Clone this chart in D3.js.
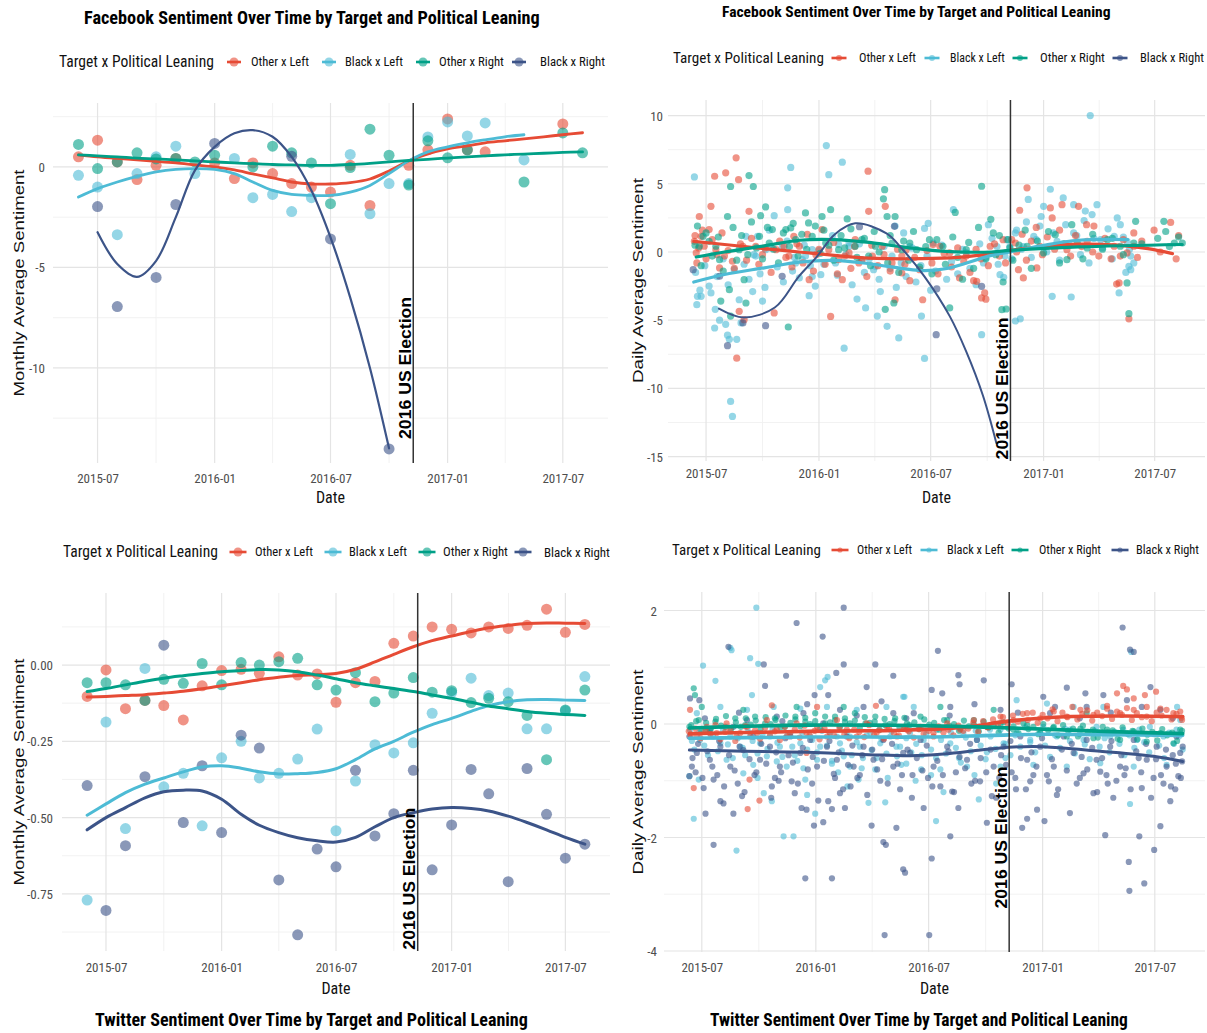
<!DOCTYPE html>
<html>
<head>
<meta charset="utf-8">
<script src="https://cdn.jsdelivr.net/npm/d3@7"></script>
<style>
  body { margin: 0; background: #fff; }
  svg { display: block; background: #fff; }
</style>
</head>
<body>
<svg id="chart" width="1207" height="1033"></svg>
<script>
// ---- series / legend ----
const seriesNames = ["Other x Left", "Black x Left", "Other x Right", "Black x Right"];
const seriesColors = ["#E64B35", "#4DBBD5", "#00A087", "#3C5488"];

// ---- monthly data (Facebook top-left, Twitter bottom-left) ----
const months = ["2015-06","2015-07","2015-08","2015-09","2015-10","2015-11","2015-12",
  "2016-01","2016-02","2016-03","2016-04","2016-05","2016-06","2016-07","2016-08","2016-09","2016-10","2016-11","2016-12",
  "2017-01","2017-02","2017-03","2017-04","2017-05","2017-06","2017-07","2017-08"];

const fbMonthlyOtherLeft  = [0.5,1.33,0.25,-0.63,0.08,0.42,null,0.2,-0.58,0.2,-0.33,-0.83,-1.0,-1.25,0.08,-1.92,null,0.08,0.85,2.39,0.85,0.75,null,null,null,2.14,null];
const fbMonthlyBlackLeft  = [-0.42,-1.0,-3.37,-0.33,0.5,1.03,-0.33,null,0.42,-1.53,-1.37,-2.22,-1.53,null,0.62,-2.33,-0.83,-0.83,1.49,2.24,1.54,2.19,null,0.35,null,null,null];
const fbMonthlyOtherRight = [1.12,-0.08,0.25,0.7,0.4,0.42,0.25,0.58,null,0.0,1.03,0.7,0.2,-1.83,-0.03,1.88,0.58,-0.9,1.3,0.45,0.85,null,null,-0.75,null,1.69,0.7];
const fbMonthlyBlackRight = [null,-1.97,-6.95,null,-5.5,-1.87,null,1.17,null,null,null,0.53,null,-3.58,null,null,-14.03,null,null,null,null,null,null,null,null,null,null];

const fbMonthlyOtherLeftFit  = [0.6,0.5,0.42,0.35,0.28,0.2,0.1,0.0,-0.15,-0.35,-0.55,-0.75,-0.85,-0.85,-0.78,-0.6,-0.2,0.3,0.65,0.9,1.05,1.2,1.3,1.4,1.5,1.6,1.7];
const fbMonthlyBlackLeftFit  = [-1.5,-1.08,-0.75,-0.47,-0.25,-0.12,-0.08,-0.12,-0.33,-0.75,-1.17,-1.37,-1.42,-1.42,-1.25,-0.92,-0.33,0.3,0.75,1.0,1.2,1.35,1.5,1.6,null,null,null];
const fbMonthlyOtherRightFit = [0.6,0.55,0.5,0.44,0.4,0.35,0.3,0.25,0.2,0.16,0.12,0.1,0.08,0.08,0.12,0.18,0.25,0.32,0.38,0.44,0.5,0.55,0.6,0.64,0.68,0.72,0.75];
const fbMonthlyBlackRightFit = [null,-3.25,-4.83,-5.47,-4.67,-2.5,-0.17,1.0,1.67,1.83,1.5,0.5,-1.17,-3.5,-6.5,-10,-14,null,null,null,null,null,null,null,null,null,null];

const twMonthlyOtherLeft  = [-0.103,-0.016,-0.143,-0.116,-0.133,-0.18,-0.068,-0.018,-0.014,-0.027,0.027,-0.033,-0.029,-0.122,-0.058,-0.054,0.071,0.095,0.125,0.117,0.105,0.125,0.12,0.13,0.183,0.107,0.133];
const twMonthlyBlackLeft  = [-0.77,-0.187,-0.536,-0.011,-0.399,-0.355,-0.527,-0.304,-0.25,-0.37,-0.355,-0.308,-0.21,-0.543,-0.38,-0.261,-0.288,-0.255,-0.158,-0.09,-0.043,-0.1,-0.092,-0.209,-0.209,-0.15,-0.038];
const twMonthlyOtherRight = [-0.058,-0.058,-0.065,-0.116,-0.047,-0.06,0.005,-0.065,0.008,0.0,0.011,0.022,-0.065,-0.082,-0.025,-0.12,-0.092,-0.041,-0.089,-0.084,-0.123,-0.109,-0.12,-0.165,-0.31,-0.147,-0.082];
const twMonthlyBlackRight = [-0.395,-0.804,-0.592,-0.366,0.065,-0.516,-0.33,-0.549,-0.23,-0.272,-0.704,-0.884,-0.603,-0.661,-0.345,-0.56,-0.487,-0.345,-0.671,-0.524,-0.342,-0.422,-0.71,-0.339,-0.489,-0.633,-0.587];

const twMonthlyOtherLeftFit  = [-0.105,-0.103,-0.1,-0.097,-0.092,-0.086,-0.078,-0.068,-0.058,-0.048,-0.04,-0.034,-0.032,-0.028,-0.014,0.01,0.035,0.06,0.08,0.095,0.11,0.122,0.13,0.136,0.138,0.137,0.136];
const twMonthlyBlackLeftFit  = [-0.492,-0.455,-0.418,-0.39,-0.37,-0.35,-0.334,-0.33,-0.338,-0.35,-0.357,-0.356,-0.352,-0.34,-0.31,-0.275,-0.25,-0.22,-0.195,-0.175,-0.152,-0.133,-0.12,-0.114,-0.113,-0.115,-0.116];
const twMonthlyOtherRightFit = [-0.087,-0.077,-0.065,-0.053,-0.043,-0.035,-0.028,-0.022,-0.018,-0.015,-0.016,-0.022,-0.033,-0.045,-0.058,-0.068,-0.077,-0.087,-0.098,-0.109,-0.122,-0.134,-0.143,-0.152,-0.158,-0.162,-0.165];
const twMonthlyBlackRightFit = [-0.54,-0.5,-0.467,-0.435,-0.415,-0.41,-0.413,-0.44,-0.489,-0.525,-0.549,-0.566,-0.576,-0.58,-0.565,-0.53,-0.5,-0.484,-0.472,-0.467,-0.47,-0.478,-0.495,-0.516,-0.54,-0.565,-0.587];

// ---- daily data: [day since 2015-06-01, sentiment] ----
const dayZero = "2015-06-01";

const fbDailyOtherLeft = [[11,0.78],[15,-0.8],[19,2.6],[22,1.15],[35,1.64],[38,3.35],[44,5.55],[52,-1.17],[62,5.8],[79,6.9],[83,5.3],[84,-4.35],[73,-0.68],[80,-7.78],[92,-4.96],[100,2.98],[111,0.42],[141,-4.47],[157,0.42],[173,1.15],[198,-2.03],[219,1.64],[233,-4.72],[252,-2.03],[273,0.9],[295,2.98],[294,5.92],[322,3.35],[338,-3.5],[349,-1.54],
  [14,-0.07],[27,0.42],[46,0.17],[60,-0.3],[90,0.42],[122,-0.2],[144,0.17],[165,-0.3],[182,0.42],[209,-0.2],[230,0.17],[246,-0.56],[263,-0.07],[279,-0.8],[301,-0.3],[317,0.42],[333,-0.8],[349,-0.3],
  [553,4.7],[541,3.06],[591,3.23],[594,2.5],[610,3.47],[637,3.35],[539,-1.3],[547,-1.9],[569,-1.17],[479,-3.37],[484,-3.0],[471,-2.15],[443,-1.9],[383,-3.5],[703,-2.27],[719,-4.9],[787,2.17],[727,1.4],[662,1.9],[670,-0.3],[466,-2.1],[486,-3.46],[699,-2.35],
  [356,0.17],[400,0.54],[411,0.42],[427,-0.07],[454,-0.3],[493,0.42],[514,0.9],[534,0.66],[574,0.42],[618,0.17],[651,0.78],[695,0.42],[705,-0.3],[716,-0.07],[727,0.42]];
const fbDailyOtherLeftBand = [[12,1.2],[18,0.3],[24,1.6],[30,-0.5],[40,0.9],[48,-0.2],[56,1.4],[66,0.1],[76,-1.2],[86,0.6],[96,-0.6],[104,1.0],[116,-0.9],[126,0.3],[136,-1.5],[150,0.8],[160,-0.4],[170,-1.1],[178,0.6],[188,-0.8],[195,1.3],[205,-1.4],[214,0.2],[224,-0.9],[238,0.7],[244,-1.6],[256,-0.3],[266,-1.2],[272,0.4],[284,-0.6],[292,-1.8],[300,0.5],[310,-1.0],[320,-0.2],[330,-1.4],[342,0.2],[354,-0.9],[362,-2.1],[370,-0.4],[378,-1.3],[390,0.1],[398,-0.8],[408,-1.6],[418,-0.1],[430,-1.1],[440,0.3],[450,-0.7],[460,-1.5],[470,0.2],[478,-0.5],[490,-1.0],[500,0.6],[508,-0.3],[518,-0.8],[528,0.9],[536,0.0],[545,1.3],[552,-0.6],[560,0.8],[568,1.8],[578,-0.2],[586,1.1],[598,0.2],[606,1.6],[615,0.6],[624,-0.3],[632,1.2],[642,0.4],[650,2.0],[660,0.0],[680,1.0],[690,-0.5],[710,0.9],[733,-0.4],[740,0.8],[760,1.6],[770,0.0],[796,-0.5],[800,1.2]];

const fbDailyBlackLeft = [[11,5.5],[16,-3.25],[15,-3.86],[22,-3.25],[35,-2.5],[45,-4.2],[44,-5.57],[52,-5.0],[62,-5.3],[65,-6.1],[68,-6.4],[70,-10.95],[73,-12.05],[80,-6.4],[87,-5.2],[95,1.15],[106,-2.9],[114,1.15],[122,-3.6],[133,1.6],[141,2.66],[163,4.7],[168,6.2],[163,3.1],[171,-1.4],[187,-0.56],[198,-3.2],[203,-1.8],[217,-1.66],[226,7.8],[230,5.67],[241,-0.8],[252,6.58],[255,-7.05],[263,0.66],[276,-3.45],[290,-4.1],[303,-1.3],[309,-4.7],[314,-2.9],[325,-5.45],[344,-6.3],[338,1.9],[352,1.4],
  [111,-0.3],[127,0.17],[154,0.4],[176,-0.8],[192,-0.3],[203,0.17],[246,0.54],[263,0.4],[284,-0.56],[306,-1.05],[333,-0.3],
  [656,10.0],[591,4.6],[555,3.85],[612,3.96],[580,3.35],[629,3.47],[648,3.0],[667,3.47],[659,2.74],[433,3.1],[490,2.0],[392,2.1],[381,-4.7],[386,-7.8],[479,-6.06],[542,-4.9],[594,-3.25],[625,-3.3],[703,-3.0],[719,-1.05],[722,-1.3],[654,-0.8],[509,-1.66],[517,-0.3],[525,0.4],[700,2.5],[705,2.0],[716,0.78],[534,1.4],[574,1.9],[515,-1.85],[534,-5.06],[386,1.73],
  [547,0.4],[564,1.15],[602,0.78],[629,1.4],[673,0.9],[695,1.15],[722,-0.3],[727,-0.8],[362,0.4],[400,0.66],[454,-0.07],[482,-0.8],[504,0.4]];
const fbDailyBlackLeftBand = [[13,-1.5],[20,-2.8],[28,-1.0],[38,-3.0],[48,-1.8],[58,-0.5],[66,-2.4],[76,-1.3],[84,-3.5],[92,-0.9],[100,-2.0],[108,-0.2],[118,-1.6],[126,-2.6],[136,0.3],[146,-1.1],[156,-2.2],[162,0.8],[174,-0.4],[182,-1.9],[190,0.5],[200,-1.0],[208,-2.5],[214,0.1],[222,-0.9],[236,1.2],[244,-1.7],[258,-0.2],[268,-2.4],[280,0.6],[288,-1.5],[296,-0.5],[312,-2.0],[320,0.4],[330,-1.2],[340,-2.6],[348,-0.8],[356,-1.8],[366,0.3],[372,-2.2],[380,-1.0],[390,-0.3],[396,-2.8],[404,-1.4],[414,0.5],[422,-2.0],[430,-0.7],[440,-1.6],[448,0.2],[460,-1.2],[470,-2.4],[476,0.6],[486,-0.4],[496,1.0],[506,-0.9],[520,0.9],[528,-0.5],[536,1.6],[544,0.2],[552,2.2],[560,-0.4],[568,0.9],[576,2.6],[585,0.0],[596,1.4],[606,-0.6],[616,2.0],[622,0.5],[634,1.2],[640,-0.2],[646,2.3],[662,1.0],[676,0.3],[685,1.7],[692,-0.5],[710,1.1],[714,-1.5],[720,0.2]];

const fbDailyOtherRight = [[16,1.9],[19,0.42],[35,0.78],[52,-0.56],[54,-3.6],[65,2.6],[70,4.8],[70,-4.7],[68,-2.76],[92,-2.03],[95,-3.74],[100,5.6],[107,4.8],[119,2.66],[127,3.3],[138,1.64],[160,1.64],[168,1.76],[164,-5.5],[192,2.86],[197,2.13],[219,2.6],[233,3.1],[260,2.42],[295,-0.3],[321,4.57],[319,3.9],[325,2.6],[338,2.6],[322,-4.2],[336,-3.74],
  [25,1.15],[46,0.42],[84,0.17],[117,1.15],[133,0.66],[176,0.9],[203,1.15],[225,0.66],[246,0.17],[273,0.42],[284,0.9],[306,0.42],[333,0.66],[349,0.17],
  [479,4.82],[436,2.9],[512,-4.23],[519,-4.18],[427,-4.1],[716,-2.27],[719,-4.52],[730,2.25],[776,2.25],[779,1.5],[806,0.66],[599,1.27],[618,-0.56],[362,0.66],[373,0.17],
  [394,0.9],[416,0.42],[454,0.17],[498,1.4],[525,0.3],[553,0.42],[580,-0.07],[635,0.66],[651,0.3],[684,0.9],[705,0.42],[727,0.66],[793,0.66]];
const fbDailyOtherRightBand = [[12,0.5],[22,-1.0],[30,1.4],[40,-0.3],[50,1.1],[58,-1.4],[74,1.8],[80,-0.6],[88,1.2],[98,-0.2],[104,2.2],[112,0.3],[122,-0.5],[130,1.8],[140,0.2],[148,-0.8],[156,1.4],[166,0.4],[172,2.1],[180,-0.3],[186,1.3],[194,0.2],[208,1.9],[216,-0.1],[222,1.6],[230,0.5],[238,-0.6],[250,1.2],[256,0.3],[266,1.7],[276,-0.4],[288,1.0],[298,-1.0],[304,1.5],[312,0.0],[326,-0.8],[330,1.2],[344,-1.5],[352,0.8],[360,-0.6],[368,1.5],[378,-1.1],[388,0.4],[398,-1.6],[406,0.9],[420,-0.9],[432,1.1],[440,-0.4],[448,-2.0],[458,0.7],[466,-1.2],[474,1.8],[486,-0.5],[494,2.4],[502,-0.2],[508,1.2],[514,-2.2],[522,0.9],[530,-0.6],[540,0.5],[550,1.6],[560,-1.2],[570,0.8],[588,1.5],[606,-0.8],[612,0.6],[626,2.0],[644,-0.5],[660,1.3],[676,0.2],[692,1.0],[710,-0.2],[740,0.6],[766,1.0],[785,0.4],[800,1.1]];

const fbDailyBlackRight = [[9,-1.3],[52,-1.78],[65,-6.87],[90,-5.2],[127,-5.4],[154,-1.78],[280,1.85],[337,1.88],[405,-6.06],[406,-2.7],[479,-2.52]];

const fbDailyOtherLeftFit  = [[10,0.78],[60,0.55],[125,0.25],[182,0.0],[239,-0.25],[296,-0.45],[381,-0.49],[440,-0.4],[495,-0.12],[526,0.12],[580,0.4],[637,0.57],[700,0.5],[750,0.25],[790,-0.12]];
const fbDailyBlackLeftFit  = [[10,-2.2],[60,-1.65],[125,-1.16],[182,-0.74],[239,-0.62],[296,-0.86],[381,-1.36],[420,-1.23],[495,-0.25],[526,0.0],[580,0.49],[637,0.86],[717,0.91]];
const fbDailyOtherRightFit = [[14,-0.37],[60,0.0],[125,0.45],[182,0.86],[239,0.91],[296,0.7],[350,0.37],[420,0.05],[495,0.0],[526,0.12],[637,0.37],[806,0.55]];
const fbDailyBlackRightFit = [[51,-4.15],[91,-4.8],[142,-4.07],[181,-1.8],[210,-0.37],[240,1.3],[273,2.1],[324,1.36],[350,0.2],[386,-1.8],[427,-4.7],[454,-7.3],[481,-10.5],[503,-14.0]];

const twDailyOtherLeft = [[11,0.25],[143,0.33],[17,-1.13],[107,-0.98],[104,-1.5],[123,-1.35],[311,0.32],
  [9,-0.13],[22,-0.22],[38,-0.05],[54,-0.16],[70,0.01],[86,-0.22],[103,-0.05],[119,-0.16],[135,0.07],[151,-0.1],[167,-0.22],[183,0.01],[199,-0.16],[216,-0.05],[232,-0.22],[248,0.07],[264,-0.1],[280,-0.22],[296,0.01],[312,-0.16],[329,-0.05],[345,-0.22],[361,-0.1],[216,0.3],[199,-0.51],
  [710,0.67],[716,0.61],[745,0.51],[763,0.57],[727,0.45],[700,0.54],
  [383,-0.05],[404,-0.16],[426,0.01],[447,-0.1],[469,0.07],[490,-0.05],[512,0.13],[533,0.07],[555,0.19],[576,0.1],[598,0.22],[619,0.13],[641,0.25],[662,0.16],[684,0.27],[705,0.19],[727,0.25],[748,0.13],[770,0.27],[791,0.19],[805,0.07],[802,0.22]];
const twDailyOtherLeftBand = [[12,-0.2],[20,-0.08],[28,-0.25],[36,-0.12],[44,-0.18],[52,-0.02],[60,-0.27],[68,-0.14],[76,-0.09],[84,-0.3],[92,-0.16],[100,-0.04],[108,-0.22],[116,-0.11],[124,-0.26],[132,-0.07],[140,-0.19],[148,-0.13],[156,-0.28],[164,-0.05],[172,-0.17],[180,-0.1],[188,-0.24],[196,-0.03],[204,-0.2],[212,-0.12],[220,-0.27],[228,-0.08],[236,-0.15],[244,-0.21],[252,-0.06],[260,-0.18],[268,-0.25],[276,-0.1],[284,-0.14],[292,-0.23],[300,-0.02],[308,-0.19],[316,-0.11],[324,-0.26],[332,-0.08],[340,-0.16],[348,-0.2],[356,-0.05],[364,-0.13],[372,-0.24],[380,-0.09],[388,-0.17],[396,-0.12],[404,-0.22],[412,-0.04],[420,-0.15],[428,-0.1],[436,-0.2],[444,-0.03],[452,-0.12],[460,-0.08],[468,0.02],[476,-0.14],[484,0.05],[492,-0.06],[500,0.08],[508,-0.02],[516,0.12],[524,0.0],[532,0.15],[540,0.04],[548,0.18],[556,0.07],[564,0.2],[572,0.02],[580,0.16],[588,0.1],[596,0.26],[604,0.05],[612,0.2],[620,0.12],[628,0.3],[636,0.08],[644,0.18],[652,0.24],[660,0.06],[668,0.2],[676,0.14],[684,0.32],[692,0.09],[700,0.22],[708,0.16],[716,0.28],[724,0.07],[732,0.19],[740,0.12],[748,0.3],[756,0.05],[764,0.2],[772,0.15],[780,0.25],[788,0.08],[796,0.18],[804,0.11]];

const twDailyBlackLeft = [[118,2.05],[32,1.03],[52,0.76],[108,1.16],[121,1.06],[76,1.34],[78,1.3],[17,-1.67],[86,-2.23],[162,-1.98],[178,-1.98],[213,-1.58],[143,-1.36],[130,-1.22],[111,0.51],[194,-0.78],[229,0.77],[233,0.83],[355,0.48],[10,-0.92],[25,-0.98],[97,-0.87],[113,-0.72],[151,-0.66],[167,-0.75],[197,-0.98],[221,0.65],[269,-0.75],[283,-0.98],[299,-1.39],[326,-1.38],
  [11,-0.1],[27,-0.28],[43,-0.16],[60,-0.34],[76,-0.22],[92,-0.4],[108,-0.16],[124,-0.34],[140,-0.22],[156,-0.4],[173,-0.16],[189,-0.34],[205,-0.22],[221,-0.4],[237,-0.16],[253,-0.34],[269,-0.22],[285,-0.4],[302,-0.16],[318,-0.34],[334,-0.22],[350,-0.4],[22,0.19],[60,0.3],[103,0.25],[146,0.3],[189,0.27],[232,0.3],[280,0.25],[328,0.3],[70,-0.63],[135,-0.57],[216,-0.63],[259,-0.57],[345,-0.57],
  [250,-0.85],[265,-1.1],[290,-0.6],[310,-0.8],[330,-0.95],[360,-0.7],[375,-1.0],[385,-0.55],[400,-0.9],[420,-1.2],[445,-0.6],[470,-0.9],[490,-0.5],[505,-1.05],[520,-0.6],[100,-0.55],[120,-0.95],[180,-0.55],[200,-1.25],[240,-0.65],
  [723,1.27],[408,-1.71],[477,-1.33],[721,-1.41],[357,0.48],[372,0.3],[538,0.42],[587,0.36],[630,0.3],[678,0.3],[797,0.3],[415,-0.8],[458,-0.75],[512,-0.75],[565,-0.72],[619,-0.75],[673,-0.69],[727,-0.75],[780,-0.72],
  [366,-0.16],[388,-0.28],[409,-0.1],[431,-0.34],[452,-0.16],[474,-0.28],[495,-0.1],[517,-0.34],[538,-0.16],[560,-0.28],[581,-0.05],[603,-0.22],[624,-0.1],[646,-0.28],[667,-0.05],[689,-0.22],[710,-0.1],[732,-0.28],[753,-0.05],[775,-0.22],[796,-0.1],[802,0.07]];
const twDailyBlackLeftBand = [[14,-0.3],[18,-0.45],[26,-0.15],[34,-0.38],[40,-0.55],[48,-0.22],[56,-0.48],[64,-0.12],[72,-0.36],[80,-0.6],[88,-0.25],[96,-0.42],[104,-0.08],[112,-0.3],[120,-0.52],[128,-0.18],[136,-0.44],[144,-0.1],[152,-0.33],[160,-0.58],[168,-0.2],[176,-0.4],[184,-0.65],[192,-0.15],[200,-0.45],[208,-0.28],[216,-0.5],[224,-0.12],[232,-0.38],[240,-0.7],[248,-0.22],[256,-0.47],[264,-0.14],[272,-0.55],[280,-0.32],[288,-0.78],[296,-0.2],[304,-0.46],[312,-0.6],[320,-0.27],[328,-0.52],[336,-0.13],[344,-0.4],[352,-0.72],[360,-0.25],[368,-0.5],[376,-0.35],[384,-0.8],[392,-0.18],[400,-0.45],[408,-0.6],[416,-0.28],[424,-0.52],[432,-0.15],[440,-0.42],[448,-0.68],[456,-0.24],[464,-0.48],[472,-0.12],[480,-0.38],[488,-0.62],[496,-0.22],[504,-0.44],[512,-0.1],[520,-0.35],[528,-0.55],[536,-0.2],[544,-0.4],[552,-0.06],[560,-0.32],[568,-0.5],[576,-0.16],[584,-0.38],[592,-0.58],[600,-0.2],[608,-0.42],[616,-0.08],[624,-0.3],[632,-0.52],[640,-0.18],[648,-0.36],[656,-0.62],[664,-0.12],[672,-0.4],[680,-0.25],[688,-0.5],[696,-0.14],[704,-0.35],[712,-0.55],[720,-0.2],[728,-0.42],[736,-0.1],[744,-0.32],[752,-0.5],[760,-0.18],[768,-0.38],[776,-0.6],[784,-0.15],[792,-0.35],[800,-0.22],[806,-0.45]];

const twDailyOtherRight = [[17,0.63],[19,0.51],[30,0.3],
  [10,-0.05],[25,0.07],[38,-0.1],[52,0.04],[68,-0.05],[84,0.1],[100,-0.02],[116,0.13],[132,0.01],[148,0.1],[164,-0.05],[181,0.13],[197,0.04],[213,0.19],[229,0.01],[245,0.13],[261,0.04],[277,0.19],[294,0.01],[310,0.13],[326,-0.02],[342,0.1],[358,-0.05],[183,0.3],[259,0.3],[97,0.25],
  [361,0.01],[383,0.13],[404,-0.05],[426,0.07],[447,-0.08],[469,0.07],[490,-0.05],[512,0.01],[533,-0.1],[555,-0.02],[576,-0.16],[598,-0.05],[619,-0.22],[641,-0.08],[662,-0.25],[684,-0.1],[705,-0.28],[727,-0.13],[748,-0.31],[770,-0.16],[791,-0.34],[802,-0.1],[415,0.3],[501,0.25],[651,0.19]];
const twDailyOtherRightBand = [[13,-0.02],[21,0.05],[29,-0.12],[37,0.02],[45,-0.08],[53,0.09],[61,-0.03],[69,0.14],[77,-0.1],[85,0.03],[93,-0.05],[101,0.1],[109,-0.01],[117,0.06],[125,-0.09],[133,0.12],[141,0.0],[149,0.07],[157,-0.06],[165,0.15],[173,0.02],[181,0.08],[189,-0.04],[197,0.11],[205,0.0],[213,0.05],[221,-0.08],[229,0.13],[237,0.03],[245,0.07],[253,-0.05],[261,0.1],[269,0.01],[277,0.06],[285,-0.07],[293,0.12],[301,0.02],[309,0.04],[317,-0.1],[325,0.09],[333,0.0],[341,0.05],[349,-0.06],[357,0.11],[365,-0.02],[373,0.03],[381,-0.09],[389,0.08],[397,-0.01],[405,0.02],[413,-0.1],[421,0.07],[429,-0.03],[437,0.0],[445,-0.12],[453,0.06],[461,-0.04],[469,-0.01],[477,-0.13],[485,0.04],[493,-0.06],[501,-0.02],[509,-0.15],[517,0.03],[525,-0.08],[533,-0.04],[541,-0.16],[549,0.01],[557,-0.09],[565,-0.05],[573,-0.18],[581,0.0],[589,-0.11],[597,-0.07],[605,-0.2],[613,-0.02],[621,-0.12],[629,-0.08],[637,-0.22],[645,-0.03],[653,-0.14],[661,-0.1],[669,-0.24],[677,-0.05],[685,-0.15],[693,-0.11],[701,-0.26],[709,-0.06],[717,-0.17],[725,-0.12],[733,-0.27],[741,-0.08],[749,-0.19],[757,-0.14],[765,-0.29],[773,-0.09],[781,-0.2],[789,-0.15],[797,-0.3],[805,-0.12]];

const twDailyBlackRight = [[259,2.05],[183,1.78],[225,1.54],[73,1.36],[130,1.05],[259,1.05],[310,1.05],[339,0.85],[166,0.85],[247,0.9],[132,0.67],[296,0.65],[212,0.51],[234,0.51],[11,0.45],[26,0.42],
  [49,-2.13],[197,-2.72],[240,-2.72],[323,-2.08],[327,-2.13],[355,-2.56],[358,-2.62],[325,-3.72],[211,-1.79],[226,-1.73],[81,-1.58],[36,-1.58],[65,-1.4],[60,-1.36],[344,-1.83],[304,-1.79],[234,-1.36],[240,-1.5],[253,-1.22],[261,-1.48],[191,-1.48],[199,-1.51],[154,-1.0],[143,-1.1],[175,-1.01],[180,-1.22],[49,-0.98],[33,-1.13],[10,-0.92],[14,-0.75],[95,-1.27],
  [10,-0.22],[22,-0.51],[43,-0.63],[60,-0.4],[76,-0.75],[97,-0.46],[113,-0.22],[124,-0.63],[140,-0.4],[156,-0.75],[173,-0.22],[189,-0.51],[205,-0.28],[216,-0.75],[232,-0.4],[248,-0.63],[264,-0.22],[275,-0.75],[291,-0.4],[307,-0.63],[323,-0.28],[339,-0.75],[355,-0.51],[103,0.07],[151,0.13],[194,0.19],[253,0.25],[291,0.3],[339,0.19],[43,-0.1],[81,-0.05],[226,0.01],
  [20,-0.85],[55,-0.9],[88,-1.05],[118,-0.85],[148,-0.95],[170,-0.55],[208,-1.05],[245,-0.95],[270,-1.1],[285,-0.9],[318,-1.0],[350,-1.15],[370,-0.9],[395,-0.95],[440,-0.85],[465,-1.05],[510,-0.95],[530,-0.85],[565,-0.9],[605,-1.15],[640,-0.95],[685,-1.05],[712,-0.9],[735,-0.6],[775,-1.05],[790,-0.55],
  [709,1.7],[721,1.31],[727,1.27],[411,1.29],[444,0.86],[446,0.7],[485,0.77],[401,0.6],[418,0.54],[530,0.7],[581,0.48],[619,0.64],[649,0.54],[678,0.51],[754,0.65],
  [397,-3.72],[401,-2.37],[720,-2.94],[744,-2.81],[719,-2.43],[760,-2.22],[681,-1.96],[736,-1.98],[431,-1.98],[770,-1.8],[547,-1.83],[555,-1.67],[583,-1.71],[624,-1.57],[490,-1.74],[444,-1.48],[388,-1.48],[571,-1.51],[786,-1.36],[794,-1.15],[740,-1.13],[759,-0.95],[537,-1.15],[560,-1.01],[590,-1.01],[662,-1.22],[694,-1.3],[434,-1.19],[415,-1.1],[479,-1.01],[498,-1.27],[646,-0.87],[673,-0.84],[802,-0.51],[805,-0.66],[799,-0.92],
  [366,-0.51],[383,-0.28],[404,-0.75],[426,-0.4],[458,-0.63],[474,-0.28],[501,-0.75],[517,-0.4],[544,-0.22],[555,-0.63],[576,-0.4],[598,-0.75],[614,-0.22],[630,-0.51],[651,-0.28],[667,-0.63],[689,-0.4],[705,-0.75],[727,-0.28],[748,-0.63],[764,-0.4],[780,-0.75],[796,-0.22],[372,0.19],[431,0.3],[512,0.25],[592,0.19],[651,0.3],[716,0.42],[770,0.25]];
const twDailyBlackRightBand = [[15,-0.6],[24,-0.35],[31,-0.95],[39,-0.48],[47,-0.75],[58,-0.3],[66,-1.1],[74,-0.55],[83,-0.82],[91,-0.4],[99,-1.2],[107,-0.62],[115,-0.9],[126,-0.35],[134,-0.7],[142,-1.3],[150,-0.5],[158,-0.85],[165,-0.25],[177,-0.68],[185,-1.05],[193,-0.42],[201,-0.8],[209,-0.58],[218,-1.35],[227,-0.65],[236,-0.3],[243,-0.88],[251,-0.5],[258,-1.15],[266,-0.72],[273,-0.38],[281,-0.95],[289,-0.55],[297,-1.25],[305,-0.45],[313,-0.8],[321,-0.62],[330,-1.05],[337,-0.35],[346,-0.7],[353,-0.9],[362,-0.45],[369,-1.3],[377,-0.6],[386,-0.82],[393,-0.38],[402,-1.1],[410,-0.65],[419,-0.9],[428,-0.48],[437,-1.2],[446,-0.58],[455,-0.78],[463,-0.35],[471,-1.0],[480,-0.6],[489,-0.85],[496,-0.45],[505,-1.3],[513,-0.55],[521,-0.72],[528,-0.3],[536,-0.95],[545,-0.6],[553,-1.15],[562,-0.5],[570,-0.75],[579,-0.25],[587,-0.9],[595,-0.62],[603,-1.25],[611,-0.45],[619,-0.82],[627,-0.35],[635,-1.05],[643,-0.58],[652,-0.8],[660,-0.42],[668,-1.2],[676,-0.6],[683,-0.9],[691,-0.3],[699,-1.0],[707,-0.55],[714,-0.78],[722,-1.15],[731,-0.48],[739,-0.85],[747,-0.35],[755,-1.3],[763,-0.62],[771,-0.9],[779,-0.45],[787,-1.1],[795,-0.7],[803,-0.95],[806,-0.4],
  [35,0.1],[90,0.2],[160,0.05],[200,0.35],[280,0.15],[320,0.4],[360,0.1],[430,0.15],[470,0.35],[540,0.2],[600,0.3],[640,0.1],[690,0.2],[740,0.3],[790,0.1]];

const twDailyOtherLeftFit  = [[10,-0.17],[100,-0.15],[200,-0.13],[300,-0.12],[350,-0.11],[450,-0.06],[525,0.05],[600,0.12],[700,0.14],[806,0.13]];
const twDailyBlackLeftFit  = [[10,-0.25],[100,-0.24],[200,-0.23],[300,-0.23],[393,-0.23],[500,-0.2],[580,-0.18],[680,-0.19],[806,-0.2]];
const twDailyOtherRightFit = [[10,-0.07],[100,-0.04],[200,-0.02],[300,-0.02],[393,-0.03],[500,-0.06],[580,-0.09],[680,-0.13],[806,-0.17]];
const twDailyBlackRightFit = [[10,-0.46],[100,-0.48],[200,-0.5],[300,-0.54],[366,-0.56],[420,-0.53],[480,-0.46],[525,-0.41],[581,-0.4],[673,-0.48],[759,-0.57],[806,-0.66]];

const electionDate = "2016-11-08";

// ---- drawing helpers ----
const NARROW = "'Liberation Sans Narrow','Arial Narrow','Roboto Condensed',sans-serif";
const REGULAR = "'Liberation Sans',Arial,Helvetica,sans-serif";
const parseDay = d3.timeParse("%Y-%m-%d");
const parseMonth = d3.timeParse("%Y-%m");
const day0 = parseDay(dayZero);
const svg = d3.select("#chart");

function fitWidth(sel, w) {
  const len = sel.node().getComputedTextLength();
  if (len > 0) sel.attr("font-size", parseFloat(sel.attr("font-size")) * w / len);
}

// turn monthly arrays into {date, v}
function monthlyPoints(values) {
  return values.map((v, i) => ({date: parseMonth(months[i]), v: v})).filter(d => d.v !== null);
}
function dailyPoints(pairs) {
  return pairs.map(d => ({date: d3.timeDay.offset(day0, d[0]), v: d[1]}));
}

function drawPanel(p) {
  const g = svg.append("g");
  const x = d3.scaleTime().domain(p.xDomain.map(parseDay)).range([p.left, p.right]);
  const y = d3.scaleLinear().domain(p.yDomain).range([p.bottom, p.top]);

  // gridlines (major + minor, theme_minimal style)
  const xMajor = x.ticks(d3.timeMonth.every(6));
  const xMinor = d3.pairs(xMajor).map(([a, b]) => new Date((+a + +b) / 2));
  const step = p.yTicks[1] - p.yTicks[0];
  const yMinor = p.yTicks.map(t => t - step / 2)
    .concat([p.yTicks[p.yTicks.length - 1] + step / 2])
    .filter(v => v >= p.yDomain[0] && v <= p.yDomain[1]);

  const grid = g.append("g");
  grid.selectAll(".yminor").data(yMinor).enter().append("line")
    .attr("x1", p.left).attr("x2", p.right)
    .attr("y1", d => y(d)).attr("y2", d => y(d))
    .attr("stroke", "#f0f0f0").attr("stroke-width", 0.9);
  grid.selectAll(".xminor").data(xMinor).enter().append("line")
    .attr("x1", d => x(d)).attr("x2", d => x(d))
    .attr("y1", p.top).attr("y2", p.bottom)
    .attr("stroke", "#f0f0f0").attr("stroke-width", 0.9);
  grid.selectAll(".ymajor").data(p.yTicks).enter().append("line")
    .attr("x1", p.left).attr("x2", p.right)
    .attr("y1", d => y(d)).attr("y2", d => y(d))
    .attr("stroke", "#e4e4e4").attr("stroke-width", 1.2);
  grid.selectAll(".xmajor").data(xMajor).enter().append("line")
    .attr("x1", d => x(d)).attr("x2", d => x(d))
    .attr("y1", p.top).attr("y2", p.bottom)
    .attr("stroke", "#e4e4e4").attr("stroke-width", 1.2);

  // axes (labels only)
  const xAxis = g.append("g")
    .attr("transform", `translate(0,${p.xLabelY})`)
    .call(d3.axisBottom(x).tickValues(xMajor).tickFormat(d3.timeFormat("%Y-%m")).tickSize(0).tickPadding(0));
  xAxis.select(".domain").remove();
  xAxis.selectAll("text").attr("y", 0).attr("dy", "0.35em")
    .attr("font-family", NARROW).attr("font-size", 13).attr("fill", "#4d4d4d");

  const yAxis = g.append("g")
    .attr("transform", `translate(${p.yLabelRight},0)`)
    .call(d3.axisLeft(y).tickValues(p.yTicks).tickFormat(d => d3.format(p.yFmt)(d).replace("\u2212", "-")).tickSize(0).tickPadding(0));
  yAxis.select(".domain").remove();
  yAxis.selectAll("text").attr("x", 0).attr("dy", "0.35em")
    .attr("font-family", NARROW).attr("font-size", 13).attr("fill", "#4d4d4d");

  // axis titles
  g.append("text")
    .attr("x", (p.left + p.right) / 2).attr("y", p.dateY).attr("dy", "0.35em")
    .attr("text-anchor", "middle").attr("font-family", NARROW).attr("font-size", 16)
    .attr("fill", "#111").text("Date");
  g.append("text")
    .attr("transform", `translate(${p.yTitleX},${(p.top + p.bottom) / 2}) rotate(-90)`)
    .attr("dy", "0.35em").attr("text-anchor", "middle")
    .attr("font-family", REGULAR).attr("font-size", 15).attr("fill", "#111")
    .attr("textLength", p.yTitleLen).attr("lengthAdjust", "spacingAndGlyphs")
    .text(p.yTitle);

  // points
  const clipId = "clip-" + p.id;
  g.append("clipPath").attr("id", clipId).append("rect")
    .attr("x", p.left).attr("y", p.top).attr("width", p.right - p.left).attr("height", p.bottom - p.top);

  p.drawOrder.forEach(i => {
    g.append("g").selectAll("circle")
      .data(p.points[i])
      .enter().append("circle")
      .attr("cx", d => x(d.date))
      .attr("cy", d => y(d.v))
      .attr("r", p.pointR)
      .attr("fill", seriesColors[i])
      .attr("fill-opacity", 0.6);
  });

  // smooth lines
  const line = d3.line().x(d => x(d.date)).y(d => y(d.v)).curve(d3.curveCatmullRom.alpha(0.5));
  const lineG = g.append("g").attr("clip-path", `url(#${clipId})`);
  [0, 1, 2, 3].forEach(i => {
    lineG.append("path")
      .datum(p.fits[i])
      .attr("d", line)
      .attr("fill", "none")
      .attr("stroke", seriesColors[i])
      .attr("stroke-width", p.lineW[i])
      .attr("stroke-linecap", "round");
  });

  // election marker
  const ex = x(parseDay(electionDate));
  g.append("line")
    .attr("x1", ex).attr("x2", ex).attr("y1", p.top).attr("y2", p.bottom)
    .attr("stroke", "#333").attr("stroke-width", 1.5);
  g.append("text")
    .attr("transform", `translate(${ex - 2.5},${y(p.electionY)}) rotate(-90)`)
    .attr("text-anchor", "middle")
    .attr("font-family", REGULAR).attr("font-weight", "bold").attr("font-size", 17)
    .attr("fill", "#000")
    .attr("textLength", 142).attr("lengthAdjust", "spacingAndGlyphs")
    .text("2016 US Election");

  // chart title
  svg.append("text")
    .attr("x", p.titleX).attr("y", p.titleY).attr("dy", "0.35em")
    .attr("font-family", NARROW).attr("font-weight", "bold").attr("font-size", 17)
    .attr("fill", "#000").text(p.title)
    .call(fitWidth, p.titleW);

  // legend
  const L = p.legend;
  const lg = svg.append("g").attr("transform", `translate(0,${L.y})`);
  lg.append("text")
    .attr("x", L.titleX).attr("dy", "0.35em")
    .attr("font-family", NARROW).attr("font-size", 15).attr("fill", "#111")
    .text("Target x Political Leaning")
    .call(fitWidth, L.titleW);
  seriesNames.forEach((name, i) => {
    const cx = L.keys[i];
    lg.append("line")
      .attr("x1", cx - L.keyLen / 2).attr("x2", cx + L.keyLen / 2)
      .attr("stroke", seriesColors[i]).attr("stroke-width", 2.6);
    lg.append("circle")
      .attr("cx", cx).attr("r", L.keyR)
      .attr("fill", seriesColors[i]).attr("fill-opacity", 0.6);
    lg.append("text")
      .attr("x", L.labels[i]).attr("dy", "0.35em")
      .attr("font-family", NARROW).attr("font-size", 12).attr("fill", "#111")
      .text(name)
      .call(fitWidth, L.labelW[i]);
  });
}

const panels = [
  {
    id: "tl", left: 53, right: 608, top: 103, bottom: 463,
    xDomain: ["2015-04-22", "2017-09-10"], yDomain: [-14.73, 3.18],
    yTicks: [-10, -5, 0], yFmt: "d", yLabelRight: 45, xLabelY: 478, dateY: 497,
    yTitleX: 19, yTitle: "Monthly Average Sentiment", yTitleLen: 227,
    title: "Facebook Sentiment Over Time by Target and Political Leaning", titleX: 84, titleY: 18, titleW: 456,
    legend: {y: 62, titleX: 59, titleW: 155, keys: [234, 329, 423, 519], labels: [251, 345, 439, 540], labelW: [58, 58, 65, 65], keyLen: 14, keyR: 4.5},
    electionY: -10, pointR: 5.5,
    points: [fbMonthlyOtherLeft, fbMonthlyBlackLeft, fbMonthlyOtherRight, fbMonthlyBlackRight].map(monthlyPoints),
    fits: [fbMonthlyOtherLeftFit, fbMonthlyBlackLeftFit, fbMonthlyOtherRightFit, fbMonthlyBlackRightFit].map(monthlyPoints),
    drawOrder: [0, 1, 2, 3], lineW: [2.8, 2.8, 2.8, 2.2]
  },
  {
    id: "tr", left: 668, right: 1205, top: 100, bottom: 461,
    xDomain: ["2015-04-30", "2017-09-21"], yDomain: [-15.32, 11.14],
    yTicks: [-15, -10, -5, 0, 5, 10], yFmt: "d", yLabelRight: 663, xLabelY: 473, dateY: 497,
    yTitleX: 638, yTitle: "Daily Average Sentiment", yTitleLen: 205,
    title: "Facebook Sentiment Over Time by Target and Political Leaning", titleX: 722, titleY: 12, titleW: 389,
    legend: {y: 58, titleX: 673, titleW: 151, keys: [839, 932, 1020, 1120], labels: [859, 950, 1040, 1140], labelW: [57, 55, 65, 64], keyLen: 15, keyR: 3},
    electionY: -10, pointR: 3.6,
    points: [fbDailyOtherLeft.concat(fbDailyOtherLeftBand), fbDailyBlackLeft.concat(fbDailyBlackLeftBand),
             fbDailyOtherRight.concat(fbDailyOtherRightBand), fbDailyBlackRight].map(dailyPoints),
    fits: [fbDailyOtherLeftFit, fbDailyBlackLeftFit, fbDailyOtherRightFit, fbDailyBlackRightFit].map(dailyPoints),
    drawOrder: [1, 0, 2, 3], lineW: [3.2, 3.2, 3.2, 2]
  },
  {
    id: "bl", left: 62, right: 610, top: 593, bottom: 951,
    xDomain: ["2015-04-22", "2017-09-10"], yDomain: [-0.937, 0.236],
    yTicks: [-0.75, -0.5, -0.25, 0], yFmt: ".2f", yLabelRight: 53, xLabelY: 967, dateY: 988,
    yTitleX: 19, yTitle: "Monthly Average Sentiment", yTitleLen: 227,
    title: "Twitter Sentiment Over Time by Target and Political Leaning", titleX: 95, titleY: 1020, titleW: 433,
    legend: {y: 552, titleX: 63, titleW: 155, keys: [238, 333, 427, 523], labels: [255, 349, 443, 544], labelW: [58, 58, 65, 66], keyLen: 17, keyR: 4.5},
    electionY: -0.7, pointR: 5.5,
    points: [twMonthlyOtherLeft, twMonthlyBlackLeft, twMonthlyOtherRight, twMonthlyBlackRight].map(monthlyPoints),
    fits: [twMonthlyOtherLeftFit, twMonthlyBlackLeftFit, twMonthlyOtherRightFit, twMonthlyBlackRightFit].map(monthlyPoints),
    drawOrder: [0, 1, 2, 3], lineW: [3, 3, 3, 3]
  },
  {
    id: "br", left: 664, right: 1205, top: 592, bottom: 952,
    xDomain: ["2015-05-01", "2017-09-20"], yDomain: [-4.018, 2.326],
    yTicks: [-4, -2, 0, 2], yFmt: "d", yLabelRight: 657, xLabelY: 967, dateY: 988,
    yTitleX: 638, yTitle: "Daily Average Sentiment", yTitleLen: 205,
    title: "Twitter Sentiment Over Time by Target and Political Leaning", titleX: 710, titleY: 1020, titleW: 418,
    legend: {y: 550, titleX: 672, titleW: 149, keys: [840, 929, 1020, 1120], labels: [857, 947, 1039, 1136], labelW: [55, 57, 62, 63], keyLen: 17, keyR: 2.6},
    electionY: -2, pointR: 3.1,
    points: [twDailyOtherLeft.concat(twDailyOtherLeftBand), twDailyBlackLeft.concat(twDailyBlackLeftBand),
             twDailyOtherRight.concat(twDailyOtherRightBand), twDailyBlackRight.concat(twDailyBlackRightBand)].map(dailyPoints),
    fits: [twDailyOtherLeftFit, twDailyBlackLeftFit, twDailyOtherRightFit, twDailyBlackRightFit].map(dailyPoints),
    drawOrder: [1, 3, 2, 0], lineW: [3.6, 3.6, 3.6, 3]
  }
];

panels.forEach(drawPanel);
</script>
</body>
</html>
